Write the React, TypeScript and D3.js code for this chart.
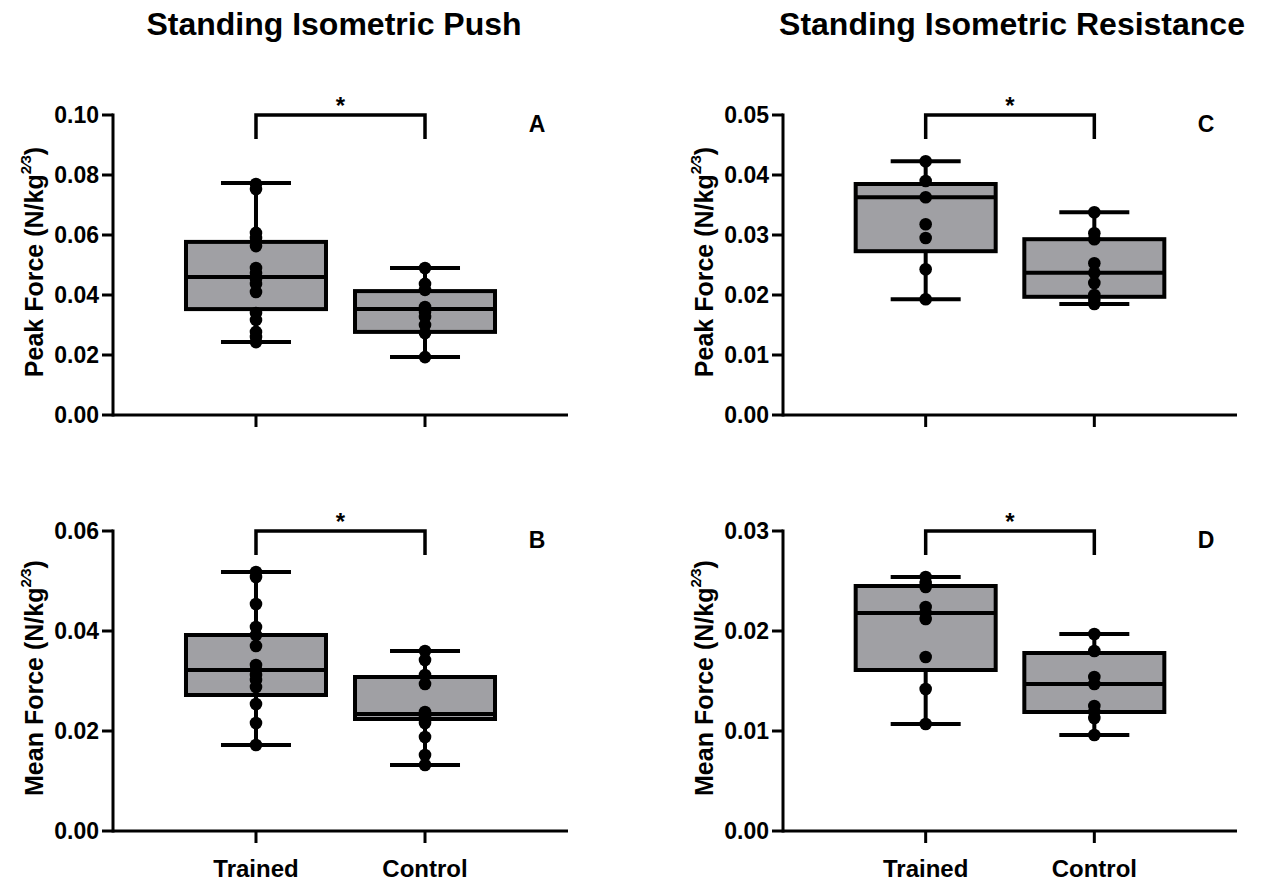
import React from "react";
import * as d3 from "d3";

const categories = ["Trained", "Control"];

// Panel A – Standing Isometric Push, Peak Force
const aTrained = [0.077, 0.0753, 0.0607, 0.059, 0.0563, 0.049, 0.0473, 0.0453, 0.0437, 0.041, 0.034, 0.0317, 0.0277, 0.026, 0.0243];
const aControl = [0.049, 0.0437, 0.0417, 0.036, 0.0343, 0.0327, 0.03, 0.0273, 0.0193];
const aTrainedBox = [0.0243, 0.0353, 0.046, 0.0577, 0.0773];
const aControlBox = [0.0193, 0.0277, 0.0353, 0.0413, 0.049];
const aTicks = [0, 0.02, 0.04, 0.06, 0.08, 0.1];

// Panel B – Standing Isometric Push, Mean Force
const bTrained = [0.0518, 0.0508, 0.0454, 0.0408, 0.0392, 0.037, 0.0332, 0.0322, 0.0312, 0.0302, 0.0288, 0.0254, 0.0216, 0.0172];
const bControl = [0.036, 0.0342, 0.0312, 0.0294, 0.0238, 0.0228, 0.0216, 0.0188, 0.0152, 0.0132];
const bTrainedBox = [0.0172, 0.0272, 0.0322, 0.0392, 0.0518];
const bControlBox = [0.0132, 0.0224, 0.0234, 0.0308, 0.036];
const bTicks = [0, 0.02, 0.04, 0.06];

// Panel C – Standing Isometric Resistance, Peak Force
const cTrained = [0.0423, 0.039, 0.0363, 0.0318, 0.0295, 0.0243, 0.0193];
const cControl = [0.0338, 0.0303, 0.0293, 0.0253, 0.0237, 0.022, 0.02, 0.0192, 0.0185];
const cTrainedBox = [0.0193, 0.0273, 0.0363, 0.0385, 0.0423];
const cControlBox = [0.0185, 0.0197, 0.0237, 0.0293, 0.0338];
const cTicks = [0, 0.01, 0.02, 0.03, 0.04, 0.05];

// Panel D – Standing Isometric Resistance, Mean Force
const dTrained = [0.0254, 0.0248, 0.0244, 0.0224, 0.0218, 0.0212, 0.0174, 0.0142, 0.0107];
const dControl = [0.0197, 0.018, 0.0154, 0.0147, 0.0125, 0.0119, 0.0113, 0.0096];
const dTrainedBox = [0.0107, 0.0161, 0.0218, 0.0245, 0.0254];
const dControlBox = [0.0096, 0.0119, 0.0147, 0.0178, 0.0197];
const dTicks = [0, 0.01, 0.02, 0.03];

const titles = ["Standing Isometric Push", "Standing Isometric Resistance"];

const FONT = "'Liberation Sans', Arial, Helvetica, sans-serif";

type PanelProps = {
  x0: number; x1: number; yTop: number; yBot: number;
  max: number; ticks: number[];
  points: number[][]; boxes: number[][];
  letter: string; ylabel: string; showX: boolean;
};

function Panel(p: PanelProps) {
  const x = d3.scalePoint<string>().domain(categories).range([p.x0, p.x1]).padding(0.846);
  const y = d3.scaleLinear().domain([0, p.max]).range([p.yBot, p.yTop]);
  const fmt = d3.format(".2f");
  const boxHalf = 70;
  const capHalf = 35;
  const xT = x(categories[0])!;
  const xC = x(categories[1])!;
  const brY = p.yTop;
  const midY = (p.yTop + p.yBot) / 2;
  return (
    <g>
      {categories.map((c, i) => {
        const cx = x(c)!;
        const [mn, q1, md, q3, mx] = p.boxes[i];
        return (
          <g key={c}>
            <line x1={cx} x2={cx} y1={y(mn)} y2={y(mx)} stroke="#000" strokeWidth={4} />
            <line x1={cx - capHalf} x2={cx + capHalf} y1={y(mx)} y2={y(mx)} stroke="#000" strokeWidth={4} />
            <line x1={cx - capHalf} x2={cx + capHalf} y1={y(mn)} y2={y(mn)} stroke="#000" strokeWidth={4} />
            <rect x={cx - boxHalf} y={y(q3)} width={boxHalf * 2} height={y(q1) - y(q3)} fill="#a0a0a4" stroke="#000" strokeWidth={4} />
            <line x1={cx - boxHalf} x2={cx + boxHalf} y1={y(md)} y2={y(md)} stroke="#000" strokeWidth={4} />
            {p.points[i].map((v, j) => (
              <circle key={j} cx={cx} cy={y(v)} r={6.3} fill="#000" />
            ))}
          </g>
        );
      })}
      <line x1={p.x0} x2={p.x0} y1={y(p.max) - 1.5} y2={p.yBot + 1.5} stroke="#000" strokeWidth={3} />
      {p.ticks.map((t) => (
        <g key={t}>
          <line x1={p.x0 - 11} x2={p.x0} y1={y(t)} y2={y(t)} stroke="#000" strokeWidth={3} />
          <text x={p.x0 - 14} y={y(t)} dy="0.36em" textAnchor="end" fontFamily={FONT} fontWeight="bold" fontSize={23} fill="#000">{fmt(t)}</text>
        </g>
      ))}
      <line x1={p.x0} x2={p.x1} y1={p.yBot} y2={p.yBot} stroke="#000" strokeWidth={3} />
      {categories.map((c) => (
        <g key={c}>
          <line x1={x(c)!} x2={x(c)!} y1={p.yBot} y2={p.yBot + 12} stroke="#000" strokeWidth={3} />
          {p.showX && (
            <text x={x(c)!} y={877} textAnchor="middle" fontFamily={FONT} fontWeight="bold" fontSize={24} fill="#000">{c}</text>
          )}
        </g>
      ))}
      <path d={`M${xT},${brY + 24}V${brY}H${xC}V${brY + 24}`} fill="none" stroke="#000" strokeWidth={3.5} />
      <text x={(xT + xC) / 2} y={brY - 1} textAnchor="middle" fontFamily={FONT} fontWeight="bold" fontSize={24} fill="#000">*</text>
      <text x={p.x1 - 31} y={p.yTop + 17} textAnchor="middle" fontFamily={FONT} fontWeight="bold" fontSize={23} fill="#000">{p.letter}</text>
      <text transform={`translate(${p.x0 - 70},${midY - 3}) rotate(-90)`} textAnchor="middle" fontFamily={FONT} fontWeight="bold" fontSize={25} fill="#000">
        {p.ylabel} (N/kg
        <tspan fontSize={15} dy={-12}>2⁄3</tspan>
        <tspan dy={12}>)</tspan>
      </text>
    </g>
  );
}

export default function App() {
  return (
    <svg width={1261} height={881} style={{ position: "absolute", left: 0, top: 0, background: "#fff" }}>
      <rect width={1261} height={881} fill="#fff" />
      <text x={334} y={35} textAnchor="middle" fontFamily={FONT} fontWeight="bold" fontSize={32} fill="#000">{titles[0]}</text>
      <text x={1012} y={35} textAnchor="middle" fontFamily={FONT} fontWeight="bold" fontSize={32} fill="#000">{titles[1]}</text>
      <Panel x0={113} x1={568} yTop={115} yBot={415} max={0.1} ticks={aTicks}
        points={[aTrained, aControl]} boxes={[aTrainedBox, aControlBox]} letter="A" ylabel="Peak Force" showX={false} />
      <Panel x0={113} x1={568} yTop={531} yBot={831} max={0.06} ticks={bTicks}
        points={[bTrained, bControl]} boxes={[bTrainedBox, bControlBox]} letter="B" ylabel="Mean Force" showX={true} />
      <Panel x0={783} x1={1237} yTop={115} yBot={415} max={0.05} ticks={cTicks}
        points={[cTrained, cControl]} boxes={[cTrainedBox, cControlBox]} letter="C" ylabel="Peak Force" showX={false} />
      <Panel x0={783} x1={1237} yTop={531} yBot={831} max={0.03} ticks={dTicks}
        points={[dTrained, dControl]} boxes={[dTrainedBox, dControlBox]} letter="D" ylabel="Mean Force" showX={true} />
    </svg>
  );
}
